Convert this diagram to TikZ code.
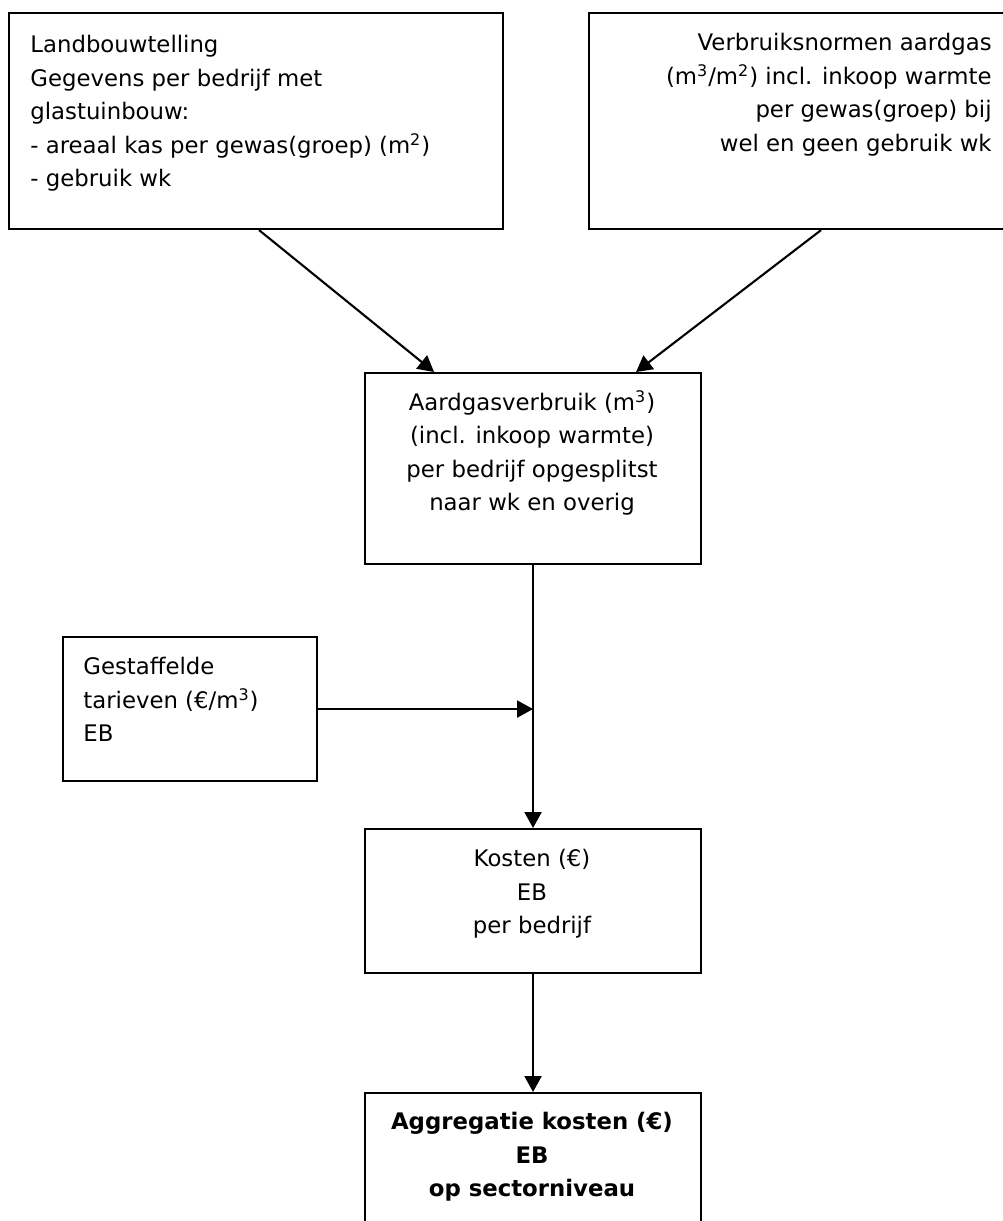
\documentclass[tikz,border=0pt]{standalone}
\usepackage{fontspec}
\setmainfont{DejaVu Sans}
\usetikzlibrary{arrows.meta}
\begin{document}
\begin{tikzpicture}[x=0.5pt,y=-0.5pt,
  box/.style={draw, line width=1.05pt, inner sep=0pt, anchor=north west},
  txt/.style={inner sep=0pt, font=\fontsize{11.4}{16.75}\selectfont},
  arr/.style={line width=1.05pt, -{Triangle[length=8pt,width=8.5pt]}}]
\useasboundingbox (0,0) rectangle (1002,1221);
% boxes
\node[box, minimum width=247pt, minimum height=108pt] (b1) at (8,12) {};
\node[box, minimum width=208pt, minimum height=108pt] (b2) at (588,12) {};
\node[box, minimum width=168pt, minimum height=95.5pt] (b3) at (364,372) {};
\node[box, minimum width=127pt, minimum height=72pt] (b4) at (62,636) {};
\node[box, minimum width=168pt, minimum height=72pt] (b5) at (364,828) {};
\node[box, minimum width=168pt, minimum height=69pt] (b6) at (364,1092) {};
% texts
\node[txt, anchor=north west, align=left] (t1) at (30,35)
  {Landbouwtelling\\Gegevens per bedrijf met\\glastuinbouw:\\- areaal kas per gewas(groep) (m\textsuperscript{2})\\- gebruik wk};
\node[txt, anchor=north east, align=right] (t2) at (992,33)
  {Verbruiksnormen aardgas\\(m\textsuperscript{3}/m\textsuperscript{2}) incl. inkoop warmte\\per gewas(groep) bij\\wel en geen gebruik wk};
\node[txt, anchor=north, align=center] (t3) at (532,390)
  {Aardgasverbruik (m\textsuperscript{3})\\(incl. inkoop warmte)\\per bedrijf opgesplitst\\naar wk en overig};
\node[txt, anchor=north west, align=left] (t4) at (83,657)
  {Gestaffelde\\tarieven (€/m\textsuperscript{3})\\EB};
\node[txt, anchor=north, align=center] (t5) at (532,849)
  {Kosten (€)\\EB\\per bedrijf};
\node[txt, anchor=north, align=center, font=\fontsize{11.4}{16.75}\selectfont\bfseries] (t6) at (532,1112)
  {Aggregatie kosten (€)\\EB\\op sectorniveau};
% connectors
\draw[arr] ([xshift=1.5pt]b1.south) -- ([xshift=-49.5pt]b3.north);
\draw[arr] ([xshift=12pt]b2.south) -- ([xshift=51.5pt]b3.north);
\draw[arr] (b3.south) -- (b5.north);
\coordinate (j) at (b4.east -| b3.south);
\draw[arr] (b4.east) -- (j);
\draw[arr] (b5.south) -- (b6.north);
\end{tikzpicture}
\end{document}
